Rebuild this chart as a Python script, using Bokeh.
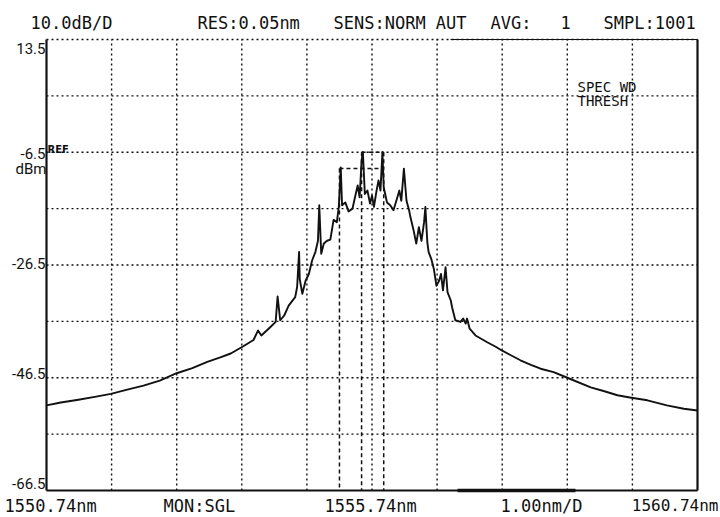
from bokeh.plotting import figure
from bokeh.models import Range1d, Label
from bokeh.embed import file_html
from bokeh.resources import INLINE

# Optical spectrum trace: wavelength (nm) and power (dBm)
wavelength_nm = [
    1550.74, 1550.96, 1551.23, 1551.48, 1551.73, 1551.98, 1552.23, 1552.48, 1552.74, 1552.98,
    1553.21, 1553.41, 1553.57, 1553.75, 1553.92, 1553.99,
    1554.04, 1554.18, 1554.26, 1554.29, 1554.33, 1554.39, 1554.46, 1554.56, 1554.59, 1554.62,
    1554.63, 1554.67, 1554.72, 1554.77, 1554.82, 1554.87, 1554.91, 1554.93, 1554.96, 1555.00,
    1555.05, 1555.10, 1555.15, 1555.20, 1555.23, 1555.26, 1555.28, 1555.33, 1555.38, 1555.44,
    1555.49, 1555.52, 1555.55, 1555.58, 1555.60, 1555.63, 1555.67, 1555.71, 1555.74, 1555.77,
    1555.81, 1555.84, 1555.87, 1555.90, 1555.92, 1555.97, 1556.02, 1556.07, 1556.13, 1556.16,
    1556.19, 1556.23, 1556.27, 1556.31, 1556.33, 1556.38, 1556.42, 1556.46, 1556.50, 1556.54,
    1556.56, 1556.59, 1556.61, 1556.65, 1556.69, 1556.73, 1556.77, 1556.80, 1556.83, 1556.87,
    1556.90, 1556.95, 1556.97, 1557.02, 1557.10, 1557.14, 1557.18, 1557.20, 1557.24, 1557.33,
    1557.51, 1557.64, 1557.74, 1558.02, 1558.18, 1558.33, 1558.53, 1558.74, 1559.10, 1559.31,
    1559.51, 1559.70, 1559.97, 1560.27, 1560.53, 1560.74,
]
power_dbm = [
    -51.4, -50.9, -50.4, -49.9, -49.35, -48.6, -47.9, -47.0, -45.7, -44.8,
    -43.7, -42.9, -42.2, -41.0, -39.8, -38.1,
    -39.0, -37.5, -36.6, -32.1, -36.3, -35.5, -33.7, -32.2, -30.4, -24.2,
    -29.0, -31.6, -29.3, -28.1, -25.7, -24.2, -22.2, -15.9, -24.5, -22.7,
    -22.2, -22.0, -18.5, -18.9, -16.2, -9.2, -15.9, -15.4, -17.0, -16.5,
    -13.9, -12.4, -14.5, -8.0, -6.5, -13.9, -13.3, -15.6, -14.2, -16.2,
    -13.3, -11.5, -13.3, -6.5, -12.7, -15.4, -15.9, -16.8, -14.5, -13.3,
    -15.1, -9.4, -15.1, -16.8, -18.0, -20.4, -22.7, -19.8, -22.2, -18.9,
    -16.2, -22.5, -24.2, -25.4, -27.2, -30.2, -29.3, -28.1, -31.0, -26.9,
    -31.3, -32.8, -34.0, -36.3, -36.6, -36.0, -36.9, -36.0, -37.8, -39.0,
    -40.2, -41.0, -41.7, -43.4, -44.2, -44.9, -45.5, -46.5, -48.2, -48.9,
    -49.6, -50.0, -50.5, -51.4, -52.0, -52.3,
]

# Screen divisions: 10 dB/div from the 13.5 dBm top, 1 nm/div around 1555.74 nm
x_ticks = [1550.74 + i for i in range(11)]
y_ticks = [13.5 - 10 * i for i in range(9)]
y_labels = ["13.5", "-6.5", "-26.5", "-46.5", "-66.5"]

# Spectral-width (threshold) markers
peak_level = -6.5
thresh_level = -9.4
marker_left = 1555.24
marker_inner = 1555.58
marker_right = 1555.92

X0, X1 = 1550.74, 1560.74
Y0, Y1 = -66.5, 13.5
W, H = 720, 517
# graticule position on the canvas (pixels)
GL, GR, GT, GB = 46, 697, 39, 490
NM_PX = (X1 - X0) / (GR - GL)
DB_PX = (Y1 - Y0) / (GB - GT)


def at(px, py):
    """Canvas pixel position -> data coordinates."""
    return X0 + (px - GL) * NM_PX, Y1 - (py - GT) * DB_PX


# The plotting area spans the whole canvas so every text can be drawn in it
p = figure(width=W, height=H, output_backend="svg", toolbar_location=None,
           x_range=Range1d(X0 - GL * NM_PX, X1 + (W - GR) * NM_PX),
           y_range=Range1d(Y0 - (H - GB) * DB_PX, Y1 + GT * DB_PX),
           x_axis_type=None, y_axis_type=None,
           min_border=0)
p.grid.visible = False
p.background_fill_color = "white"
p.border_fill_color = "white"
p.outline_line_color = None

ink = "#111111"

# Dotted graticule
inner_x = x_ticks[1:-1]
inner_y = y_ticks[1:-1]
p.segment(x0=inner_x, y0=[Y0] * len(inner_x), x1=inner_x, y1=[Y1] * len(inner_x),
          line_color=ink, line_width=1.4, line_dash="2 3")
p.segment(x0=[X0] * len(inner_y), y0=inner_y, x1=[X1] * len(inner_y), y1=inner_y,
          line_color=ink, line_width=1.4, line_dash="2 3")

# Frame: dotted top, solid sides and bottom
p.segment(x0=[X0], y0=[Y1], x1=[X1], y1=[Y1], line_color=ink, line_width=1.3, line_dash="2 3")
tx0, _ = at(450, 0)
p.segment(x0=[tx0], y0=[Y1], x1=[X1], y1=[Y1], line_color=ink, line_width=1.2)
p.segment(x0=[X0, X1, X0], y0=[Y0, Y0, Y0], x1=[X0, X1, X1], y1=[Y1, Y1, Y0],
          line_color=ink, line_width=2.2)

# Scale bar on the bottom edge
bx0, _ = at(457, 0)
bx1, _ = at(575, 0)
p.segment(x0=[bx0], y0=[Y0], x1=[bx1], y1=[Y0], line_color=ink, line_width=3.5)

# Threshold markers
p.segment(x0=[marker_left, marker_inner, marker_right, marker_inner, marker_left],
          y0=[thresh_level, peak_level, peak_level, peak_level, thresh_level],
          x1=[marker_left, marker_inner, marker_right, marker_right, marker_right],
          y1=[Y0, Y0, Y0, peak_level, thresh_level],
          line_color=ink, line_width=1.5, line_dash="4 3")

# Spectrum trace
p.line(wavelength_nm, power_dbm, line_color=ink, line_width=1.9, line_join="round")

mono = "DejaVu Sans Mono"


def label(px, py, text, size=17, font=mono, align="left", style="normal"):
    x, y = at(px, py)
    p.add_layout(Label(x=x, y=y, text=text, text_font=font, text_font_size=f"{size}px",
                       text_align=align, text_baseline="middle", text_color=ink,
                       text_font_style=style))


# Header line
label(30, 22, "10.0dB/D")
label(197, 22, "RES:0.05nm")
label(333, 22, "SENS:NORM AUT")
label(490, 22, "AVG:")
label(560, 22, "1")
label(603, 22, "SMPL:1001")

# Footer line
label(4, 505, "1550.74nm")
label(163, 505, "MON:SGL")
label(324, 505, "1555.74nm")
label(500, 505, "1.00nm/D")
label(718, 505, "1560.74nm", size=16, align="right")

# Level labels
level_py = [48, 153, 263, 373, 483]
for py, txt in zip(level_py, y_labels):
    label(45, py, txt, size=15, font="Roboto", align="right")
label(46, 168, "dBm", size=15, font="Roboto", align="right")
label(47, 149, "REF", size=10, font="DejaVu Sans", style="bold")

# Measurement mode
label(577, 86, "SPEC WD", size=14)
label(577, 100, "THRESH", size=14)

open("out.html", "w").write(file_html(p, INLINE))
